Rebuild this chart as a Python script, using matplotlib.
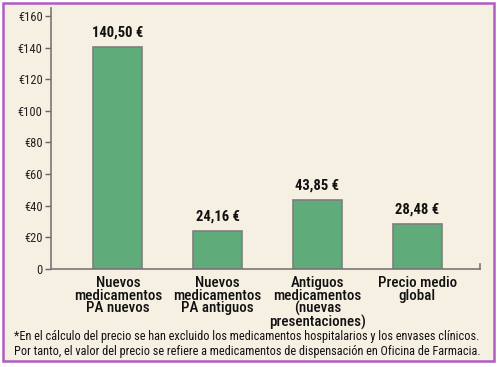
import matplotlib
matplotlib.use("Agg")
import matplotlib.pyplot as plt
from matplotlib.patches import Rectangle

categories = ["Nuevos\nmedicamentos\nPA nuevos",
              "Nuevos\nmedicamentos\nPA antiguos",
              "Antiguos\nmedicamentos\n(nuevas\npresentaciones)",
              "Precio medio\nglobal"]
values = [140.50, 24.16, 43.85, 28.48]
value_labels = ["140,50 €", "24,16 €", "43,85 €", "28,48 €"]
yticks = [0, 20, 40, 60, 80, 100, 120, 140, 160]
ytick_labels = ["0", "€20", "€40", "€60", "€80", "€100", "€120", "€140", "€160"]
footnote = ("*En el cálculo del precio se han excluido los medicamentos hospitalarios y los envases clínicos.\n"
            "Por tanto, el valor del precio se refiere a medicamentos de dispensación en Oficina de Farmacia.")

FONT = ["Roboto Condensed", "DejaVu Sans"]
plt.rcParams['font.family'] = FONT

bg = "#F6F0E3"
W, H = 497, 367
fig = plt.figure(figsize=(W/100, H/100), dpi=100)
fig.patch.set_facecolor("white")
fig.patches.append(Rectangle((3/W, 6/H), 491/W, 358/H, transform=fig.transFigure,
                             facecolor=bg, edgecolor="#B15CC4", linewidth=1.8, zorder=-1))

ax = fig.add_axes([51/W, 1-269/H, (480-51)/W, (269-8)/H])
ax.set_facecolor("none")
x = list(range(len(categories)))
bars = ax.bar(x, values, width=0.49, color="#5FAB79", edgecolor="#7E7E7E", linewidth=1.2, zorder=2)
for xi, v, lab in zip(x, values, value_labels):
    ax.annotate(lab, (xi, v), xytext=(0, 5), textcoords="offset points",
                ha="center", va="bottom", fontsize=10.5, fontweight="bold", color="#111111")

ax.set_xlim(-0.67, 3.63)
ax.set_ylim(0, 165)
ax.set_yticks(yticks)
ax.set_yticklabels(ytick_labels, fontsize=9, color="#222222")
ax.set_xticks(x)
ax.set_xticklabels(categories, fontsize=10.8, color="#111111", linespacing=0.88,
                   fontweight="medium")
ax.tick_params(axis="x", length=0, pad=5)
ax.tick_params(axis="y", length=4, width=1, color="#666666", pad=2)
for s in ["top", "right"]:
    ax.spines[s].set_visible(False)
for s in ["left", "bottom"]:
    ax.spines[s].set_color("#777777")
    ax.spines[s].set_linewidth(1.2)
# small end tick on right of x-axis
ax.plot([1, 1], [0, 0.018], transform=ax.transAxes, color="#777777", lw=1.2, clip_on=False)

fig.text(14/W, 1-344/H, footnote, fontsize=8.8, color="#111111", ha="left", va="center",
         linespacing=1.2)

fig.savefig("out.png", dpi=100, facecolor=fig.get_facecolor())
